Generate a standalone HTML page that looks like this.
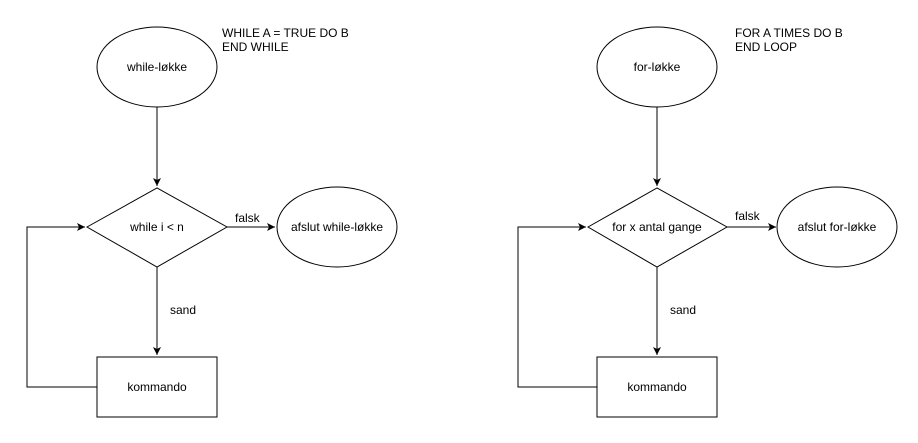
<!DOCTYPE html>
<html><head><meta charset="utf-8"><style>
html,body{margin:0;padding:0;background:#fff;}
svg text{font-family:"Liberation Sans",Arial,sans-serif;font-size:12px;fill:#000;}
</style></head><body>
<svg width="918" height="438" viewBox="0 0 918 438" xmlns="http://www.w3.org/2000/svg">
<defs><marker id="a" markerWidth="10" markerHeight="10" refX="8" refY="4" orient="auto" markerUnits="userSpaceOnUse"><path d="M0,0 L8,4 L0,8 L2,4 Z" fill="#000"/></marker></defs>
<g fill="none" stroke="#000" stroke-width="1">
<!-- left -->
<ellipse cx="157" cy="67" rx="60" ry="40"/>
<path d="M157,107 V186" marker-end="url(#a)"/>
<path d="M87,227 L157,188 L227,227 L157,267 Z"/>
<path d="M227,227 H275" marker-end="url(#a)"/>
<ellipse cx="337" cy="227" rx="60" ry="40"/>
<path d="M157,267 V355" marker-end="url(#a)"/>
<rect x="97" y="357" width="120" height="60"/>
<path d="M97,387 H27 V227 H85" marker-end="url(#a)"/>
<!-- right -->
<ellipse cx="657" cy="67" rx="60" ry="40"/>
<path d="M657,107 V186" marker-end="url(#a)"/>
<path d="M588,227 L657,188 L727,227 L657,267 Z"/>
<path d="M727,227 H776" marker-end="url(#a)"/>
<ellipse cx="837" cy="227" rx="60" ry="40"/>
<path d="M657,267 V355" marker-end="url(#a)"/>
<rect x="597" y="357" width="120" height="60"/>
<path d="M597,387 H518 V227 H586" marker-end="url(#a)"/>
</g>
<g text-anchor="middle">
<text x="157" y="71">while-løkke</text>
<text x="157" y="231">while i &lt; n</text>
<text x="337" y="231">afslut while-løkke</text>
<text x="157" y="391">kommando</text>
<text x="657" y="71">for-løkke</text>
<text x="657" y="231">for x antal gange</text>
<text x="837" y="231">afslut for-løkke</text>
<text x="657" y="391">kommando</text>
</g>
<text x="235" y="222">falsk</text>
<text x="170" y="314">sand</text>
<text x="735" y="220">falsk</text>
<text x="670" y="314">sand</text>
<text x="222" y="37">WHILE A = TRUE DO B</text>
<text x="222" y="51">END WHILE</text>
<text x="735" y="37">FOR A TIMES DO B</text>
<text x="735" y="51">END LOOP</text>
</svg>
</body></html>
